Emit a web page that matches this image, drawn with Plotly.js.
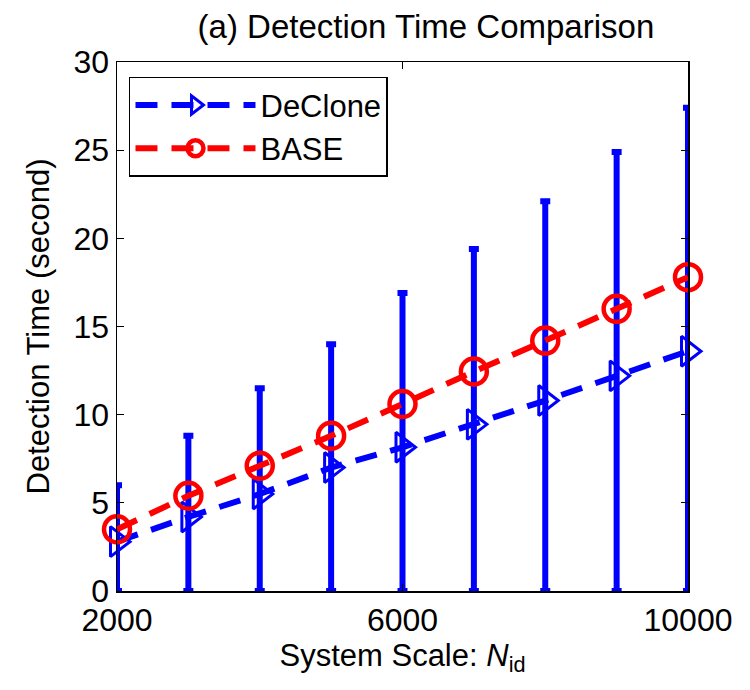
<!DOCTYPE html>
<html>
<head>
<meta charset="utf-8">
<script src="https://cdn.plot.ly/plotly-3.0.1.min.js"></script>
<style>html,body{margin:0;padding:0;background:#fff;}#chart{width:750px;height:690px;}</style>
</head>
<body>
<div id="chart"></div>
<script>
const scales = [2000, 3000, 4000, 5000, 6000, 7000, 8000, 9000, 10000];
const declone = [2.8, 4.2, 5.5, 7.0, 8.15, 9.45, 10.8, 12.2, 13.6];
const decloneTop = [6.0, 8.8, 11.5, 14.0, 16.9, 19.4, 22.1, 24.9, 27.4];
const base = [3.5, 5.4, 7.1, 8.8, 10.6, 12.45, 14.2, 16.0, 17.8];
const xTicks = [2000, 6000, 10000];
const yTicks = [0, 5, 10, 15, 20, 25, 30];

const plusErr = decloneTop.map((t, i) => t - declone[i]);
const minusErr = declone.slice();

const font = "Liberation Sans, Arial, Helvetica, sans-serif";

const traces = [
  {
    x: scales, y: declone, name: 'DeClone', type: 'scatter', mode: 'lines+markers',
    cliponaxis: false,
    line: {color: '#0000ff', width: 6, dash: '22px,14px'},
    marker: {symbol: 'triangle-right-open', size: 26, color: '#0000ff', line: {width: 3, color: '#0000ff'}},
    error_y: {type: 'data', symmetric: false, array: plusErr, arrayminus: minusErr,
              color: '#0000ff', thickness: 6, width: 5}
  },
  {
    x: scales, y: base, name: 'BASE', type: 'scatter', mode: 'lines+markers',
    cliponaxis: false,
    line: {color: '#ff0000', width: 6, dash: '22px,14px'},
    marker: {symbol: 'circle-open', size: 26, color: '#ff0000', line: {width: 4.5, color: '#ff0000'}}
  }
];

const layout = {
  width: 750, height: 690,
  paper_bgcolor: '#fff', plot_bgcolor: '#fff',
  margin: {l: 117, r: 62, t: 62, b: 99},
  font: {family: font, size: 31, color: '#000'},
  title: {text: '(a) Detection Time Comparison', xref: 'paper', x: 0.541, xanchor: 'center',
          yref: 'container', y: 0.962, yanchor: 'middle',
          font: {family: font, size: 33, color: '#000'}},
  showlegend: true,
  legend: {x: 0.021, y: 0.972, xanchor: 'left', yanchor: 'top', bgcolor: '#fff',
           bordercolor: '#000', borderwidth: 1.5, font: {family: font, size: 31, color: '#000'},
           itemwidth: 120, tracegroupgap: 0},
  xaxis: {
    range: [2000, 10000], tickvals: xTicks, ticktext: xTicks.map(String),
    ticks: 'inside', ticklen: 7, tickcolor: '#000', showgrid: false, zeroline: false,
    showline: true, linecolor: '#000', linewidth: 1.5, mirror: 'ticks',
    tickfont: {family: font, size: 32, color: '#000'},
    automargin: false,
    title: {text: 'System Scale: <i>N</i><sub>id</sub>', standoff: 6, font: {family: font, size: 31, color: '#000'}}
  },
  yaxis: {
    range: [0, 30], tickvals: yTicks,
    ticks: 'inside', ticklen: 7, tickcolor: '#000', showgrid: false, zeroline: false,
    showline: true, linecolor: '#000', linewidth: 1.5, mirror: 'ticks',
    tickfont: {family: font, size: 32, color: '#000'},
    automargin: false,
    title: {text: 'Detection Time (second)', standoff: 14, font: {family: font, size: 31, color: '#000'}}
  }
};

Plotly.newPlot('chart', traces, layout, {displayModeBar: false, staticPlot: true});
</script>
</body>
</html>
